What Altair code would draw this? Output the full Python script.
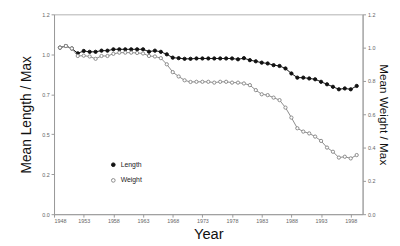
import altair as alt
import pandas as pd

years = list(range(1949, 2000))
length = [1.00, 1.01, 0.995, 0.966, 0.98, 0.975, 0.975, 0.982, 0.982, 0.99,
          0.99, 0.99, 0.99, 0.99, 0.99, 0.976, 0.982, 0.975, 0.96, 0.94,
          0.937, 0.933, 0.933, 0.935, 0.935, 0.935, 0.935, 0.935, 0.935, 0.935,
          0.93, 0.937, 0.925, 0.918, 0.91, 0.905, 0.895, 0.89, 0.875, 0.845,
          0.82, 0.82, 0.815, 0.81, 0.795, 0.78, 0.765, 0.75, 0.755, 0.75, 0.77]
weight = [1.00, 1.01, 0.995, 0.95, 0.952, 0.947, 0.933, 0.95, 0.95, 0.963,
          0.97, 0.97, 0.97, 0.968, 0.965, 0.95, 0.947, 0.937, 0.90, 0.853,
          0.827, 0.804, 0.794, 0.795, 0.795, 0.795, 0.79, 0.795, 0.795, 0.79,
          0.79, 0.785, 0.775, 0.745, 0.72, 0.715, 0.70, 0.685, 0.64, 0.58,
          0.516, 0.496, 0.485, 0.466, 0.44, 0.40, 0.375, 0.34, 0.345, 0.335, 0.355]
series_names = ["Length", "Weight"]
stroke_colors = ["#111111", "#8a8a8a"]
fill_colors = ["#111111", "#ffffff"]
left_ticks = [0.0, 0.24, 0.48, 0.72, 0.96, 1.2]
right_ticks = [0.0, 0.2, 0.4, 0.6, 0.8, 1.0, 1.2]
year_ticks = [1948, 1953, 1958, 1963, 1968, 1973, 1978, 1983, 1988, 1993, 1998]

df = pd.DataFrame({
    "Year": years * 2,
    "Value": length + weight,
    "Series": ["Length"] * len(years) + ["Weight"] * len(years),
})

FONT = "Liberation Sans"
xenc = alt.X("Year:Q", scale=alt.Scale(domain=[1948, 2000], nice=False, zero=False),
             axis=alt.Axis(values=year_ticks, format="d", title="Year", titleFontSize=15,
                           titleFontWeight="normal", titlePadding=3, labelFontSize=5.5,
                           labelColor="#666", tickSize=3, labelPadding=1))
stroke_scale = alt.Scale(domain=series_names, range=stroke_colors)
fill_scale = alt.Scale(domain=series_names, range=fill_colors)

legend = alt.Legend(title=None, orient="none", legendX=57, legendY=150, labelFontSize=7,
                    labelFont=FONT, symbolSize=14, rowPadding=7, labelColor="#222",
                    symbolStrokeWidth=1, symbolType="circle")


def series_layer(name, axis):
    i = series_names.index(name)
    b = alt.Chart(df).transform_filter(alt.datum.Series == name)
    y = alt.Y("Value:Q", scale=alt.Scale(domain=[0, 1.2], nice=False), axis=axis)
    line = b.mark_line(strokeWidth=1, color=stroke_colors[i]).encode(x=xenc, y=y)
    pts = b.mark_point(size=11, strokeWidth=1, opacity=1).encode(
        x=xenc, y=y,
        stroke=alt.Stroke("Series:N", scale=stroke_scale, legend=legend),
        fill=alt.Fill("Series:N", scale=fill_scale, legend=legend))
    return alt.layer(line, pts)


left_axis = alt.Axis(values=left_ticks, format=".1f", title="Mean Length / Max",
                     titleFontSize=14, titleFontWeight="normal", titlePadding=8,
                     labelFontSize=5.5, labelColor="#666", tickSize=3, labelPadding=2)
right_axis = alt.Axis(values=right_ticks, format=".1f", title="Mean Weight / Max",
                      orient="right", titleFontSize=12, titleFontWeight="normal",
                      titlePadding=2, labelFontSize=5.5, labelColor="#666", tickSize=3,
                      labelPadding=2)

chart = alt.layer(series_layer("Length", left_axis), series_layer("Weight", right_axis)).resolve_scale(
    y="independent").properties(
    width=315, height=204, autosize=alt.AutoSizeParams(type="none"),
    padding={"left": 47, "top": 4, "right": 30, "bottom": 30},
).configure_axis(
    domainColor="#9a9a9a", tickColor="#9a9a9a", grid=False, labelFont=FONT, titleFont=FONT,
    titleColor="#111",
).configure_view(stroke="#b0b0b0", strokeWidth=1)

chart.save("out.html", embed_options={"renderer": "svg", "actions": False})
